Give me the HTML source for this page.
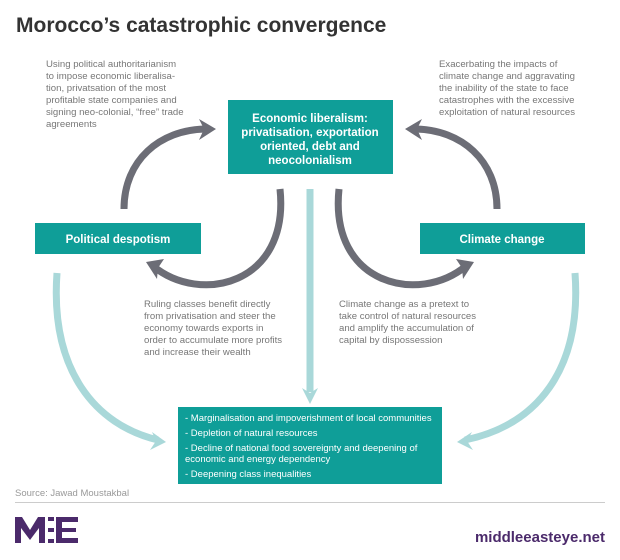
<!DOCTYPE html>
<html><head><meta charset="utf-8"><style>
body{margin:0;width:620px;height:555px;background:#fff;overflow:hidden;font-family:"Liberation Sans",sans-serif;}
</style></head><body>
<svg width="620" height="555" viewBox="0 0 620 555" xmlns="http://www.w3.org/2000/svg" font-family="Liberation Sans, sans-serif">
<text x="16" y="32" font-size="21" font-weight="bold" fill="#333">Morocco’s catastrophic convergence</text>
<g font-size="9.6" fill="#777">
<text x="46" y="67">Using political authoritarianism</text>
<text x="46" y="79">to impose economic liberalisa-</text>
<text x="46" y="91">tion, privatsation of the most</text>
<text x="46" y="103">profitable state companies and</text>
<text x="46" y="115">signing neo-colonial, “free” trade</text>
<text x="46" y="127">agreements</text>
<text x="439" y="67">Exacerbating the impacts of</text>
<text x="439" y="79">climate change and aggravating</text>
<text x="439" y="91">the inability of the state to face</text>
<text x="439" y="103">catastrophes with the excessive</text>
<text x="439" y="115">exploitation of natural resources</text>
<text x="144" y="307">Ruling classes benefit directly</text>
<text x="144" y="319">from privatisation and steer the</text>
<text x="144" y="331">economy towards exports in</text>
<text x="144" y="343">order to accumulate more profits</text>
<text x="144" y="355">and increase their wealth</text>
<text x="339" y="307">Climate change as a pretext to</text>
<text x="339" y="319">take control of natural resources</text>
<text x="339" y="331">and amplify the accumulation of</text>
<text x="339" y="343">capital by dispossession</text>
</g>
<g stroke="#a9d8d9" stroke-width="7" fill="none">
<path d="M310,189 L310,392"/>
<path d="M57,273 C50,370 95,425 158,440"/>
<path d="M575,273 C582,370 537,425 465,440"/>
</g>
<g fill="#a9d8d9">
<polygon points="302,388 310,404 318,388 310,393"/>
<polygon points="152,432 166,442 150,450 156,441"/>
<polygon points="472,432 457,442 473,450 467,441"/>
</g>
<g stroke="#6c6d76" stroke-width="7" fill="none">
<path d="M124,209 C124,160 160,130 205,129"/>
<path d="M497,209 C497,160 461,130 416,129"/>
<path d="M280,189 C290,285 200,305 153,266"/>
<path d="M339,189 C329,285 419,305 466,266"/>
</g>
<g fill="#6c6d76">
<polygon points="199,119 216,129 199,140 204,129"/>
<polygon points="422,119 405,129 422,140 417,129"/>
<polygon points="146,262 164,259 158,268 157,279"/>
<polygon points="474,262 456,259 462,268 463,279"/>
</g>
<g fill="#0f9e98">
<rect x="228" y="100" width="165" height="74"/>
<rect x="35" y="223" width="166" height="31"/>
<rect x="420" y="223" width="165" height="31"/>
<rect x="178" y="407" width="264" height="77"/>
</g>
<g fill="#fff" font-weight="bold" font-size="11.5" text-anchor="middle">
<text x="310" y="122">Economic liberalism:</text>
<text x="310" y="136">privatisation, exportation</text>
<text x="310" y="150">oriented, debt and</text>
<text x="310" y="164">neocolonialism</text>
<text x="118" y="243">Political despotism</text>
<text x="502" y="243">Climate change</text>
</g>
<g fill="#fff" font-size="9.5">
<text x="185" y="421">- Marginalisation and impoverishment of local communities</text>
<text x="185" y="436">- Depletion of natural resources</text>
<text x="185" y="451">- Decline of national food sovereignty and deepening of</text>
<text x="185" y="462">economic and energy dependency</text>
<text x="185" y="477">- Deepening class inequalities</text>
</g>
<text x="15" y="496" font-size="9.5" fill="#999">Source: Jawad Moustakbal</text>
<rect x="15" y="502" width="590" height="1" fill="#ccc"/>
<g fill="#4b2a6b">
<polygon points="15,543 15,517 22,517 30,530 38,517 45,517 45,543 39,543 39,528 30,540 21,528 21,543"/>
<rect x="48" y="517" width="6" height="4"/><rect x="48" y="528" width="6" height="4"/><rect x="48" y="539" width="6" height="4"/>
<rect x="56" y="517" width="22" height="5"/><rect x="56" y="517" width="6" height="26"/><rect x="56" y="528" width="20" height="4"/><rect x="56" y="538" width="22" height="5"/>
<text x="605" y="542" font-size="15" font-weight="bold" text-anchor="end">middleeasteye.net</text>
</g>
</svg>
</body></html>
